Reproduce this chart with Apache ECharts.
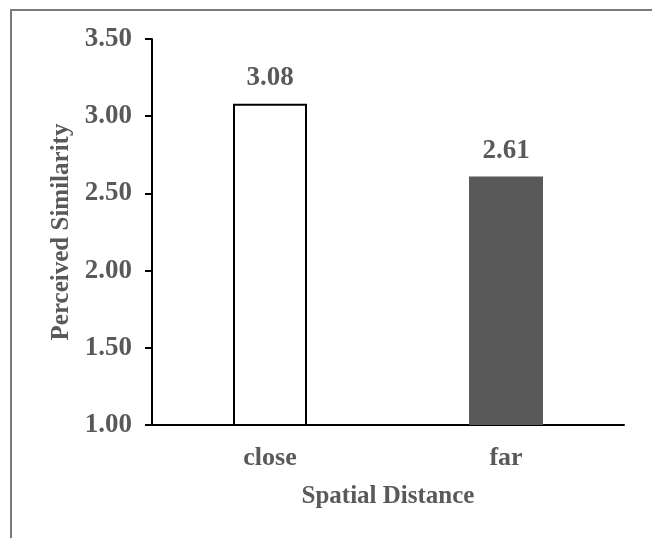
<!DOCTYPE html>
<html>
<head>
<meta charset="utf-8">
<script src="https://cdn.jsdelivr.net/npm/echarts@6/dist/echarts.min.js"></script>
<style>
html,body{margin:0;padding:0;background:#fff;overflow:hidden;}
#frame{position:absolute;left:10px;top:9px;width:800px;height:700px;border-top:2px solid #7a7a7a;border-left:2px solid #7a7a7a;}
#chart{position:absolute;left:0;top:0;width:652px;height:538px;}
</style>
</head>
<body>
<div id="frame"></div>
<div id="chart"></div>
<script>
const categories = ['close', 'far'];
const similarity = [3.08, 2.61];
const yTicks = { min: 1, max: 3.5, interval: 0.5 };
const xTitle = 'Spatial Distance';
const yTitle = 'Perceived Similarity';

const FONT = '"Liberation Serif", "Times New Roman", serif';
const TXT = '#595959';
const barStyles = [
  { color: '#ffffff', borderColor: '#000000', borderWidth: 2 },
  { color: '#595959', borderColor: '#595959', borderWidth: 0 }
];

const chart = echarts.init(document.getElementById('chart'), null, { renderer: 'canvas' });
chart.setOption({
  animation: false,
  backgroundColor: 'transparent',
  grid: { left: 152, right: 28, top: 39, bottom: 113, containLabel: false },
  xAxis: {
    type: 'category',
    data: categories,
    name: xTitle,
    nameLocation: 'middle',
    nameGap: 59,
    nameTextStyle: { fontFamily: FONT, fontSize: 25, color: TXT, fontWeight: 'bold' },
    axisLine: { lineStyle: { color: '#000', width: 2 } },
    axisTick: { show: false },
    axisLabel: { fontFamily: FONT, fontSize: 26, color: TXT, margin: 20, fontWeight: 'bold' },
    splitLine: { show: false }
  },
  yAxis: {
    type: 'value',
    min: yTicks.min,
    max: yTicks.max,
    interval: yTicks.interval,
    name: yTitle,
    nameLocation: 'middle',
    nameGap: 78,
    nameTextStyle: { fontFamily: FONT, fontSize: 25, color: TXT, fontWeight: 'bold' },
    axisLine: { show: true, lineStyle: { color: '#000', width: 2 } },
    axisTick: { show: true, length: 7, lineStyle: { color: '#000', width: 2 } },
    axisLabel: { fontFamily: FONT, fontSize: 27, color: TXT, margin: 20, fontWeight: 'bold',
      formatter: v => v.toFixed(2) },
    splitLine: { show: false }
  },
  series: [{
    type: 'bar',
    barWidth: 74,
    data: similarity.map((v, i) => ({ value: v, itemStyle: barStyles[i] })),
    label: {
      show: true,
      position: 'top',
      distance: 12,
      fontFamily: FONT, fontSize: 27, color: TXT, fontWeight: 'bold',
      formatter: p => p.value.toFixed(2)
    }
  }]
});
</script>
</body>
</html>
